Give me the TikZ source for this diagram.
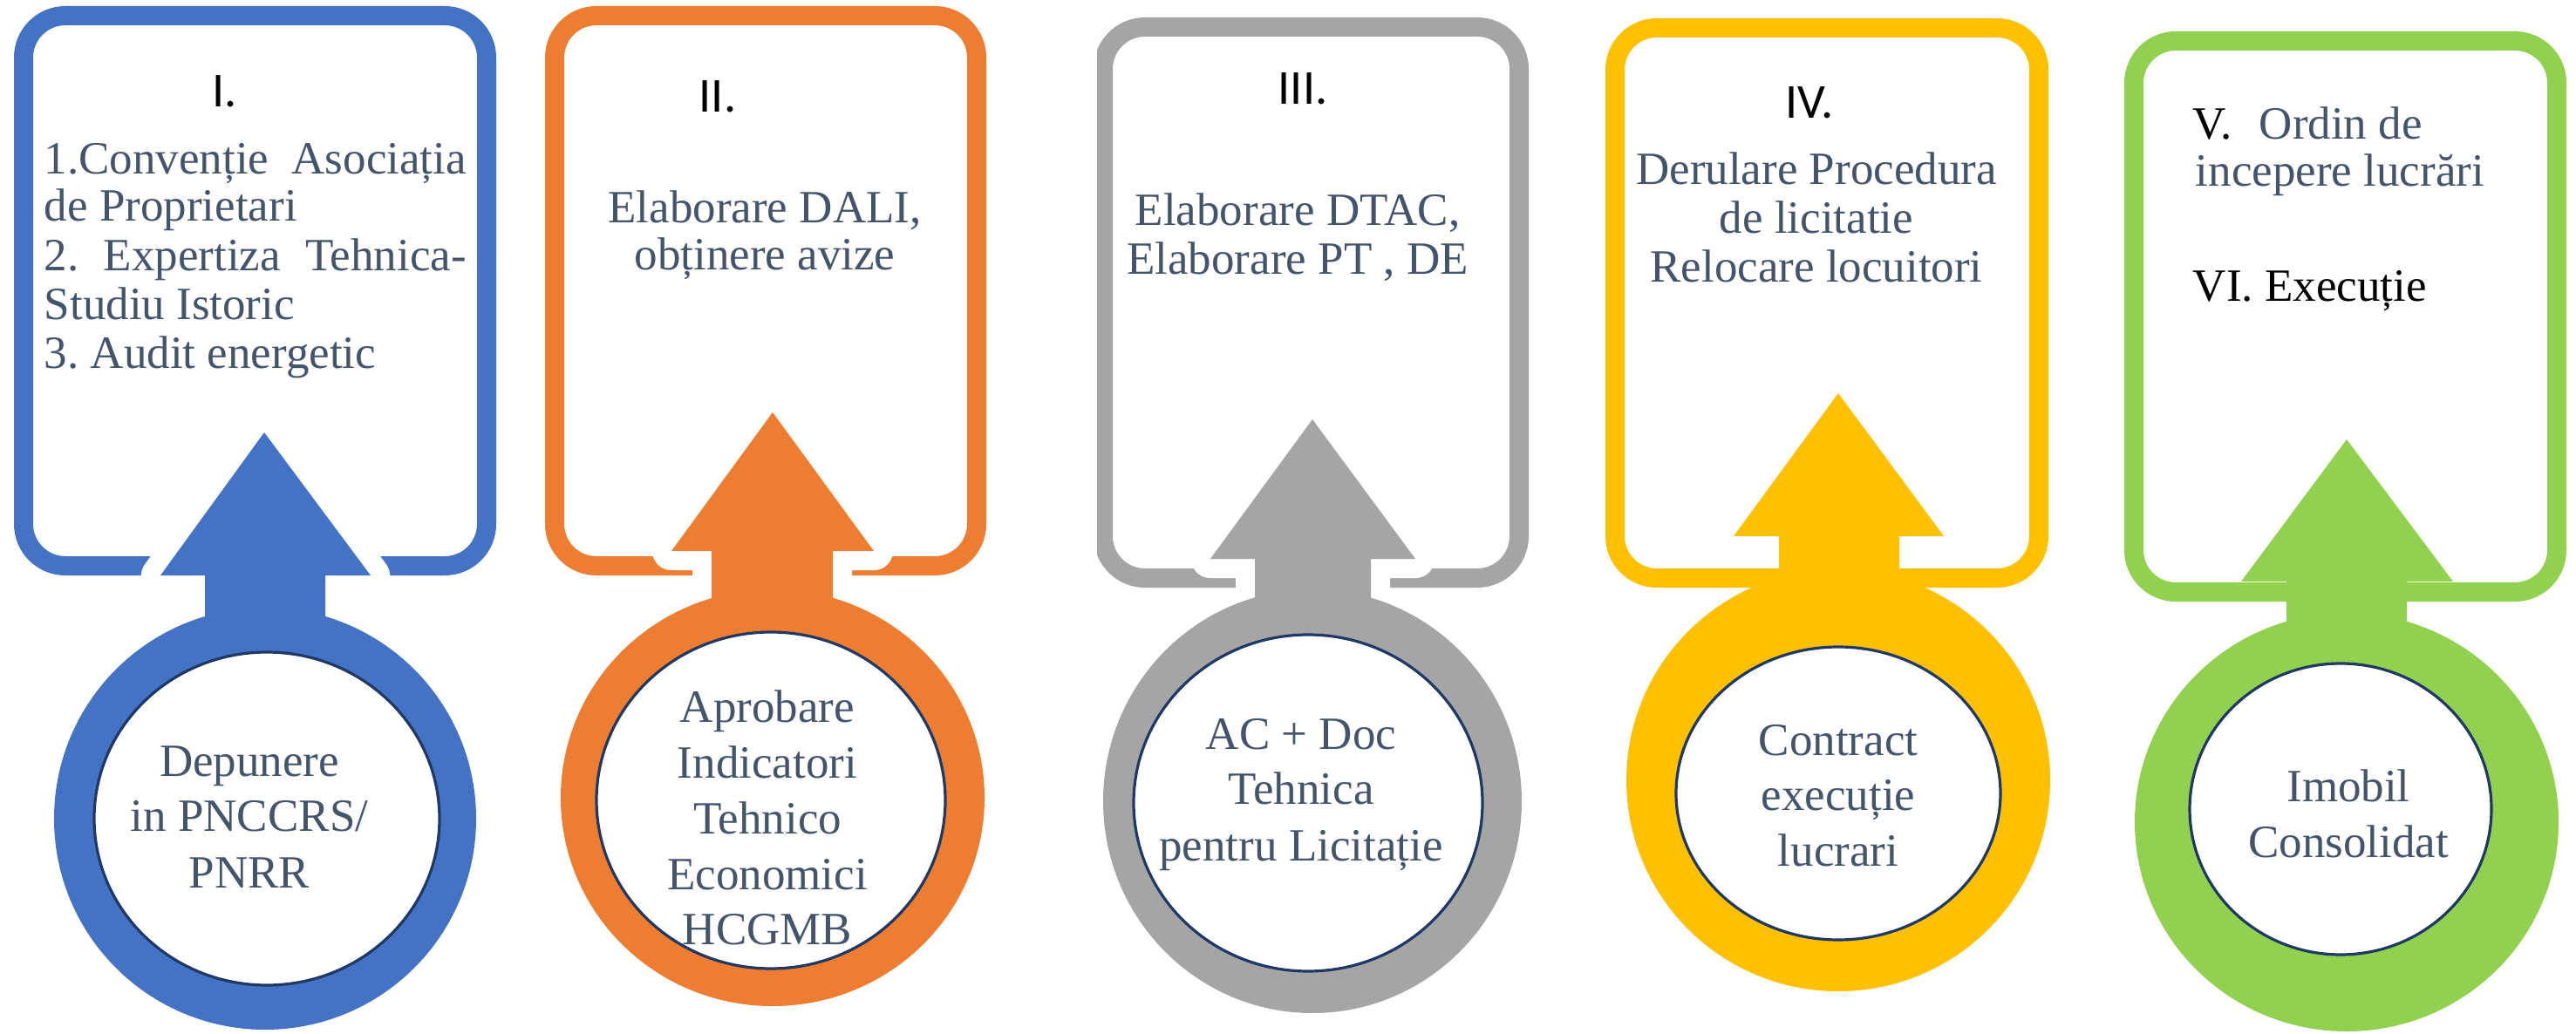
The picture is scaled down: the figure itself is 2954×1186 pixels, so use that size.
\documentclass[tikz,border=0pt]{standalone}
\usepackage{fontspec}
\setmainfont{Liberation Serif}
\newfontfamily\numfont{Carlito}
\frenchspacing
\definecolor{cblue}{HTML}{4472C4}
\definecolor{corange}{HTML}{ED7D31}
\definecolor{cgrey}{HTML}{A5A5A5}
\definecolor{cyellow}{HTML}{FFC000}
\definecolor{cgreen}{HTML}{92D050}
\definecolor{slate}{HTML}{44546A}
\definecolor{navy}{HTML}{1F3864}
\tikzset{
  frame/.style={line width=5.5pt, rounded corners=12pt},
  cutout/.style={draw=white, line width=11pt, line join=round},
  hole/.style={fill=white, draw=navy, line width=0.8pt},
  numlbl/.style={font=\numfont\fontsize{14pt}{16pt}\selectfont, text=black, inner sep=0pt},
  body/.style={font=\fontsize{13.25pt}{16pt}\selectfont, text=slate, inner sep=0pt},
  bodyblk/.style={font=\fontsize{13.25pt}{16pt}\selectfont, text=black, inner sep=0pt}
}
\begin{document}
\begin{tikzpicture}[x=0.25pt,y=-0.25pt]
\useasboundingbox (0,0) rectangle (2954,1186);
\fill[white] (0,0) rectangle (2954,1186);

% ---------- Panel I (blue)
\draw[frame, cblue] (27,18) rectangle (558,649);
\draw[cutout] (303,496) -- (425,660) -- (373,660) -- (373,740) -- (235,740) -- (235,660) -- (184,660) -- cycle;
\fill[cblue] (303,496) -- (425,660) -- (373,660) -- (373,740) -- (235,740) -- (235,660) -- (184,660) -- cycle;
\fill[cblue] (304,939) ellipse [x radius=242, y radius=242];
\filldraw[hole] (306,939) ellipse [x radius=198, y radius=191];
\node[numlbl, anchor=base] (n1) at (258,123) {I.};
\node[body, anchor=base west] (b1a) at (50,200) {\hbox to 121pt{1.Convenție\hfill Asociația}};
\node[body, anchor=base west] (b1b) at (50,254) {de Proprietari};
\node[body, anchor=base west] (b1c) at (50,311) {\hbox to 121pt{2.\hfill Expertiza\hfill Tehnica-}};
\node[body, anchor=base west] (b1d) at (50,367) {Studiu Istoric};
\node[body, anchor=base west] (b1e) at (50,423) {3. Audit energetic};
\node[body, anchor=base] (r1a) at (286,890) {Depunere};
\node[body, anchor=base] (r1b) at (286,953) {in PNCCRS/};
\node[body, anchor=base] (r1c) at (286,1018) {PNRR};

% ---------- Panel II (orange)
\draw[frame, corange] (636,18) rectangle (1120,649);
\draw[cutout] (886,473) -- (1002,632) -- (955,632) -- (955,740) -- (816,740) -- (816,632) -- (770,632) -- cycle;
\fill[corange] (886,473) -- (1002,632) -- (955,632) -- (955,740) -- (816,740) -- (816,632) -- (770,632) -- cycle;
\fill[corange] (886,915) ellipse [x radius=243, y radius=239];
\filldraw[hole] (884,918) ellipse [x radius=200, y radius=193];
\node[numlbl, anchor=base] (n2) at (823,129) {II.};
\node[body, anchor=base] (b2a) at (877,256) {Elaborare DALI,};
\node[body, anchor=base] (b2b) at (877,310) {obținere avize};
\node[body, anchor=base] (r2a) at (880,828) {Aprobare};
\node[body, anchor=base] (r2b) at (880,892) {Indicatori};
\node[body, anchor=base] (r2c) at (880,956) {Tehnico};
\node[body, anchor=base] (r2d) at (880,1020) {Economici};
\node[body, anchor=base] (r2e) at (880,1083) {HCGMB};

% ---------- Panel III (grey)
\draw[frame, cgrey] (1265,31) rectangle (1742,663);
\fill[white] (1235,0) rectangle (1258,700);
\draw[cutout] (1505,481) -- (1623,641) -- (1572,641) -- (1572,750) -- (1439,750) -- (1439,641) -- (1388,641) -- cycle;
\fill[cgrey] (1505,481) -- (1623,641) -- (1572,641) -- (1572,750) -- (1439,750) -- (1439,641) -- (1388,641) -- cycle;
\fill[cgrey] (1505,919) ellipse [x radius=240, y radius=243];
\filldraw[hole] (1500,921) ellipse [x radius=200, y radius=193];
\node[numlbl, anchor=base] (n3) at (1494,120) {III.};
\node[body, anchor=base] (b3a) at (1488,259) {Elaborare DTAC,};
\node[body, anchor=base] (b3b) at (1488,315) {Elaborare PT , DE};
\node[body, anchor=base] (r3a) at (1492,859) {AC + Doc};
\node[body, anchor=base] (r3b) at (1492,922) {Tehnica};
\node[body, anchor=base] (r3c) at (1492,987) {pentru Licitație};

% ---------- Panel IV (yellow)
\draw[frame, cyellow] (1852,32) rectangle (2338,663);
\fill[cyellow] (2108,451) -- (2229,615) -- (2178,615) -- (2178,740) -- (2040,740) -- (2040,615) -- (1988,615) -- cycle;
\fill[cyellow] (2108,895) ellipse [x radius=243, y radius=242];
\filldraw[hole] (2108,910) ellipse [x radius=186, y radius=168];
\node[numlbl, anchor=base] (n4) at (2075,136) {IV.};
\node[body, anchor=base] (b4a) at (2083,212) {Derulare Procedura};
\node[body, anchor=base] (b4b) at (2083,268) {de licitatie};
\node[body, anchor=base] (b4c) at (2083,324) {Relocare locuitori};
\node[body, anchor=base] (r4a) at (2108,866) {Contract};
\node[body, anchor=base] (r4b) at (2108,929) {execuție};
\node[body, anchor=base] (r4c) at (2108,993) {lucrari};

% ---------- Panel V (green)
\draw[frame, cgreen] (2447,47) rectangle (2932,679);
\fill[cgreen] (2691,504) -- (2813,667) -- (2760,667) -- (2760,760) -- (2622,760) -- (2622,667) -- (2570,667) -- cycle;
\fill[cgreen] (2691,943) ellipse [x radius=243, y radius=240];
\filldraw[hole] (2684,928) ellipse [x radius=173, y radius=167];
\node[bodyblk, anchor=base west] (b5a) at (2514,160) {V.};
\node[body, anchor=base west] (b5b) at (2590,160) {Ordin de};
\node[body, anchor=base west] (b5c) at (2517,214) {incepere lucrări};
\node[bodyblk, anchor=base west] (b5d) at (2514,346) {VI. Execuție};
\node[body, anchor=base] (r5a) at (2693,919) {Imobil};
\node[body, anchor=base] (r5b) at (2693,983) {Consolidat};
\end{tikzpicture}
\end{document}
